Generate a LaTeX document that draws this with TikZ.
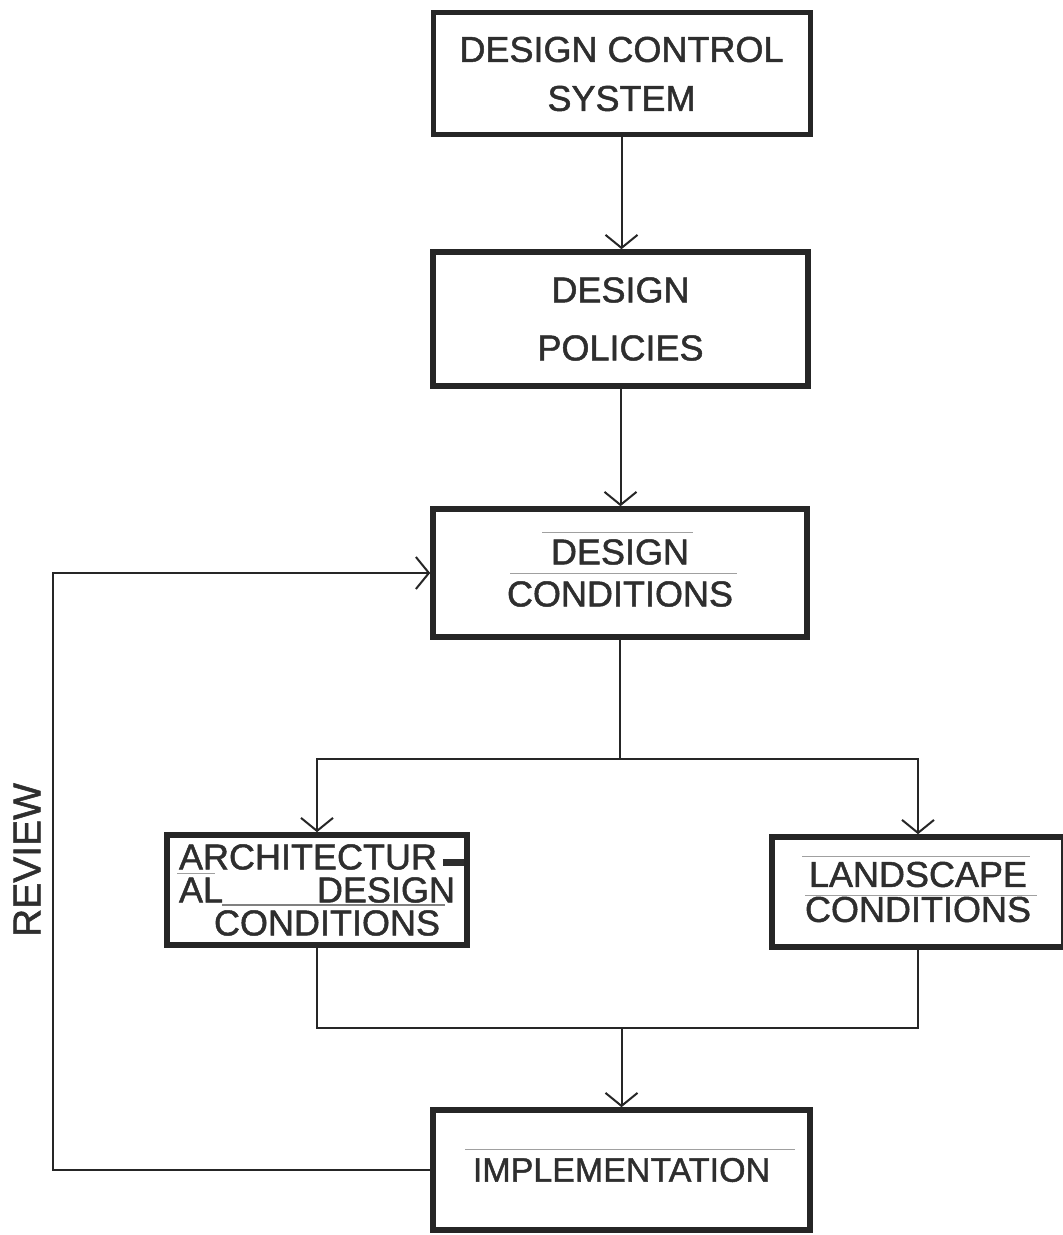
\documentclass[tikz,border=0pt]{standalone}
\usepackage{fontspec}
\setmainfont{Liberation Sans}
\newfontfamily\scanfont{Liberation Sans}[FakeBold=1.3]
\usetikzlibrary{arrows.meta}
\definecolor{ink}{HTML}{262626}
\definecolor{txt}{HTML}{2E2E2E}
\definecolor{faint}{HTML}{A0A0A0}
\begin{document}
\begin{tikzpicture}[x=0.5pt,y=-0.5pt,
  box/.style={draw=ink, line width=2.8pt, fill=white, inner sep=0pt, align=center, text=txt},
  arr/.style={draw=ink, line width=1pt, -{Straight Barb[length=6.5pt,width=16pt,line width=1pt]}},
  con/.style={draw=ink, line width=1pt},
  art/.style={draw=faint, line width=0.45pt}]
\useasboundingbox (0,0) rectangle (1063,1235);
\fill[white] (0,0) rectangle (1063,1235);

% boxes
\node[box, line width=2.5pt, minimum width=188.5pt, minimum height=61pt,
  font=\scanfont\fontsize{18pt}{24.5pt}\selectfont] (b1) at (621.5,74) {DESIGN CONTROL\\SYSTEM};
\node[box, minimum width=187.5pt, minimum height=67pt,
  font=\scanfont\fontsize{18pt}{29pt}\selectfont] (b2) at (620.5,319) {DESIGN\\POLICIES};
\node[box, minimum width=187pt, minimum height=64pt,
  font=\scanfont\fontsize{18pt}{21pt}\selectfont] (b3) at (620,573) {DESIGN\\CONDITIONS};
\node[box, align=left, text width=138pt, minimum width=150pt, minimum height=55pt,
  font=\scanfont\fontsize{18pt}{16.5pt}\selectfont] (b4) at (317,890)
  {ARCHITECTUR\,\rule[1.5pt]{10.5pt}{3.5pt}\\AL\hfill DESIGN\hspace*{3pt}\\\hspace*{17.5pt}CONDITIONS};
\node[box, minimum width=146pt, minimum height=55pt,
  font=\scanfont\fontsize{18pt}{17.5pt}\selectfont] (b5) at (918,892) {LANDSCAPE\\CONDITIONS};
\node[box, minimum width=188.5pt, minimum height=60pt,
  font=\scanfont\fontsize{17pt}{20pt}\selectfont] (b6) at (621.5,1170) {IMPLEMENTATION};

\node[rotate=90, text=txt, inner sep=0pt, font=\scanfont\fontsize{19.5pt}{20pt}\selectfont] (rev) at (27,860) {REVIEW};

% faint paste-up rules
\draw[art] (542,532) -- (693,532);
\draw[art] (510,573) -- (737,573);
\draw[art] (802,856) -- (1030,856);
\draw[art] (805,895) -- (1037,895);
\draw[art] (465,1149) -- (795,1149);
\draw[art] (177,873) -- (215,873);
\draw[art, draw=gray, line width=0.6pt] (222,905) -- (445,905);

% junction coordinates
\coordinate (j1) at (620,759);
\coordinate (j2) at (620,1028);
\coordinate (rx) at (53,0);

% connectors
\draw[arr] (b1.south) -- (b1.south |- b2.north);
\draw[arr] (b2.south) -- (b2.south |- b3.north);
\draw[con] (b3.south) -- (b3.south |- j1);
\draw[con, line cap=rect] (b4.north |- j1) -- (b5.north |- j1);
\draw[arr] (b4.north |- j1) -- (b4.north);
\draw[arr] (b5.north |- j1) -- (b5.north);
\draw[con, line cap=rect] (b4.south) -- (b4.south |- j2) -- (b5.south |- j2) -- (b5.south);
\draw[arr] (b6.north |- j2) -- (b6.north);
\draw[arr, line join=miter] (b6.west) -- (b6.west -| rx) -- (rx |- b3.west) -- (b3.west);
\end{tikzpicture}
\end{document}
